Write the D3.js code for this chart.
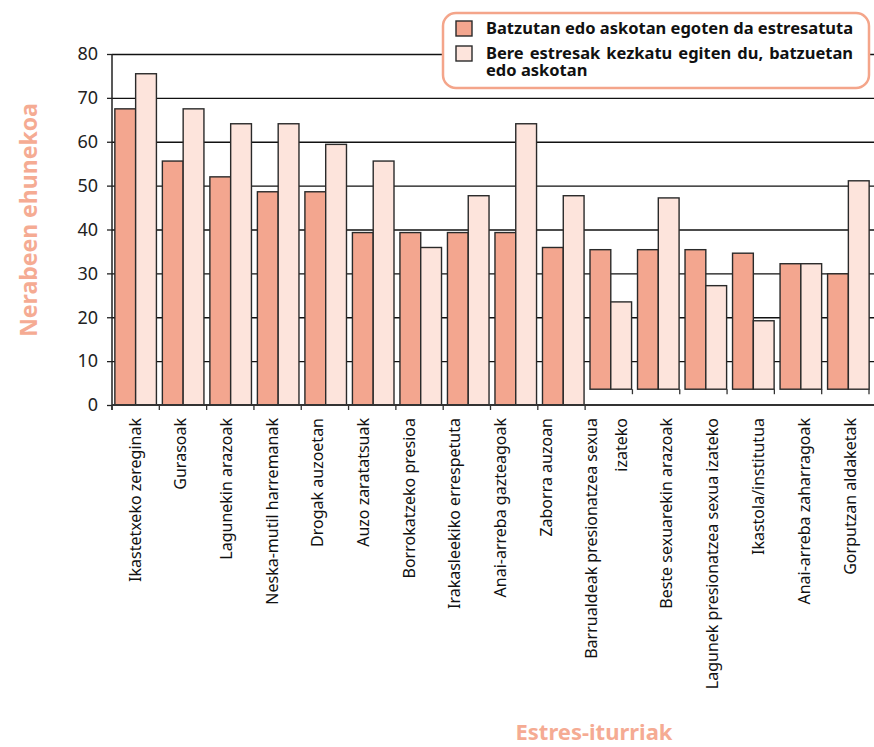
<!DOCTYPE html>
<html>
<head>
<meta charset="utf-8">
<script src="https://cdn.jsdelivr.net/npm/d3@7"></script>
<style>
  body { margin: 0; background: #fff; }
  svg { display: block; font-family: "Noto Sans", sans-serif; }
</style>
</head>
<body>
<svg></svg>
<script>
// Data
const categories = [
  "Ikastetxeko zereginak", "Gurasoak", "Lagunekin arazoak", "Neska-mutil harremanak",
  "Drogak auzoetan", "Auzo zaratatsuak", "Borrokatzeko presioa", "Irakasleekiko errespetuta",
  "Anai-arreba gazteagoak", "Zaborra auzoan", "Barrualdeak presionatzea sexua\nizateko",
  "Beste sexuarekin arazoak", "Lagunek presionatzea sexua izateko", "Ikastola/institutua",
  "Anai-arreba zaharragoak", "Gorputzan aldaketak"
];
const stressed = [67.5, 55.6, 52.0, 48.6, 48.6, 39.3, 39.3, 39.3, 39.3, 35.9, 35.4, 35.4, 35.4, 34.6, 32.2, 29.9];
const worried  = [75.5, 67.5, 64.1, 64.1, 59.4, 55.6, 35.9, 47.7, 64.1, 47.7, 23.5, 47.2, 27.2, 19.2, 32.2, 51.1];
const seriesNames = [
  "Batzutan edo askotan egoten da estresatuta",
  "Bere estresak kezkatu egiten du, batzuetan\nedo askotan"
];
const yTicks = [0, 10, 20, 30, 40, 50, 60, 70, 80];
// in the original the last six groups sit on a raised base
const raisedFrom = 10;
const raisedBase = 3.6;

// Sizes
const W = 874, H = 747;
const plot = { l: 112, r: 874, t: 54, b: 405 };
const colors = ["#f3a68f", "#fde4dc"];
const accent = "#f5ab93";

const svg = d3.select("svg").attr("width", W).attr("height", H);

// Scales
const y = d3.scaleLinear().domain([0, 80]).range([plot.b, plot.t]);
const x0 = d3.scaleBand().domain(d3.range(categories.length))
  .range([plot.l, 872]).paddingInner(0.125).paddingOuter(0.06);
const x1 = d3.scaleBand().domain([0, 1]).range([0, x0.bandwidth()]);
const xTick = d3.scaleLinear().domain([0, categories.length]).range([plot.l, 869]);
const xLabel = d3.scaleLinear().domain([0, 9, 10, 15]).range([135, 546, 621, 850]);

// y grid
svg.append("g")
  .attr("transform", `translate(${plot.l},0)`)
  .call(d3.axisLeft(y).tickValues(yTicks.slice(1)).tickSize(-(plot.r - plot.l)).tickFormat(""))
  .call(g => g.select(".domain").remove())
  .call(g => g.selectAll("line").attr("stroke", "#111").attr("stroke-width", 1.3));

// y axis
svg.append("g")
  .attr("transform", `translate(${plot.l},0)`)
  .call(d3.axisLeft(y).tickValues(yTicks).tickSize(5).tickPadding(9))
  .call(g => g.select(".domain").attr("d", `M0,${plot.t}V${plot.b + 5}`).attr("stroke", "#222").attr("stroke-width", 1.5))
  .call(g => g.selectAll("line").attr("stroke", "#222").attr("stroke-width", 1.3))
  .call(g => g.selectAll("text").attr("font-size", 18).attr("fill", "#222")
    .attr("font-family", "'Noto Sans', sans-serif"));

// Bars
const groups = svg.append("g").selectAll("g")
  .data(categories.map((c, i) => ({ i, vals: [stressed[i], worried[i]] })))
  .join("g")
  .attr("transform", d => `translate(${x0(d.i)},0)`);

groups.selectAll("rect")
  .data(d => d.vals.map((v, k) => ({ k, v, base: d.i >= raisedFrom ? raisedBase : 0 })))
  .join("rect")
  .attr("x", d => x1(d.k))
  .attr("width", x1.bandwidth())
  .attr("y", d => y(d.v))
  .attr("height", d => y(d.base) - y(d.v))
  .attr("fill", d => colors[d.k])
  .attr("stroke", "#2a2a2a")
  .attr("stroke-width", 1.4);

// x baseline and category ticks
svg.append("line")
  .attr("x1", plot.l).attr("x2", plot.r)
  .attr("y1", y(0)).attr("y2", y(0))
  .attr("stroke", "#333").attr("stroke-width", 1.8);

svg.append("g").selectAll("line")
  .data(d3.range(categories.length + 1))
  .join("line")
  .attr("x1", d => xTick(d)).attr("x2", d => xTick(d))
  .attr("y1", d => d > raisedFrom ? y(raisedBase) : y(0))
  .attr("y2", d => (d > raisedFrom ? y(raisedBase) : y(0)) + 5)
  .attr("stroke", "#333").attr("stroke-width", 1.3);

// Category labels
const labels = svg.append("g").selectAll("text")
  .data(categories)
  .join("text")
  .attr("transform", (d, i) => `translate(${xLabel(i)},418) rotate(-90)`)
  .attr("text-anchor", "end")
  .attr("font-size", 16)
  .attr("fill", "#111");

labels.each(function (d) {
  const lines = d.split("\n");
  const t = d3.select(this);
  lines.forEach((ln, j) => {
    t.append("tspan")
      .attr("x", 0)
      .attr("y", (j - lines.length + 1) * 30)
      .attr("dy", "0.35em")
      .text(ln);
  });
});

// Axis titles
svg.append("text")
  .attr("transform", `translate(37,220) rotate(-90)`)
  .attr("text-anchor", "middle")
  .attr("font-size", 23).attr("font-weight", "bold")
  .attr("fill", accent)
  .text("Nerabeen ehunekoa");

svg.append("text")
  .attr("x", 594).attr("y", 740)
  .attr("text-anchor", "middle")
  .attr("font-size", 22).attr("font-weight", "bold")
  .attr("fill", accent)
  .text("Estres-iturriak");

// Legend
const legend = svg.append("g");
legend.append("rect")
  .attr("x", 443).attr("y", 13)
  .attr("width", 426).attr("height", 75)
  .attr("rx", 13)
  .attr("fill", "#fff")
  .attr("stroke", "#f4a58a").attr("stroke-width", 2.5);

const legendY = [21, 46];
seriesNames.forEach((name, k) => {
  legend.append("rect")
    .attr("x", 456).attr("y", legendY[k])
    .attr("width", 16).attr("height", 15)
    .attr("fill", colors[k]).attr("stroke", "#2a2a2a").attr("stroke-width", 1.4);
  const t = legend.append("text")
    .attr("font-size", 16.5).attr("font-weight", "bold").attr("fill", "#111");
  name.split("\n").forEach((ln, j) => {
    t.append("tspan").attr("x", 486).attr("y", legendY[k] + 13 + j * 17).text(ln);
  });
});

// justify the first line of the second legend entry to the first entry's width
const legendTexts = legend.selectAll("text").nodes();
const fullW = legendTexts[0].getComputedTextLength();
const firstLine = d3.select(legendTexts[1]).select("tspan");
const words = firstLine.text().split(" ").length;
const lineW = firstLine.node().getComputedTextLength();
if (lineW < fullW) firstLine.attr("word-spacing", (fullW - lineW) / (words - 1));
</script>
</body>
</html>
